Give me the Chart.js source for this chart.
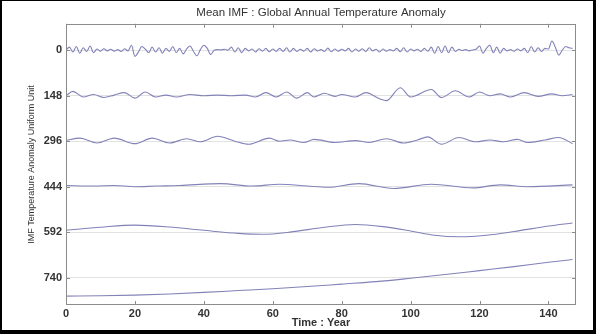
<!DOCTYPE html>
<html>
<head>
<meta charset="utf-8">
<script src="https://cdn.jsdelivr.net/npm/chart.js@4"></script>
<style>
  html, body { margin: 0; padding: 0; background: #000; }
  #wrap { position: absolute; left: 2px; top: 1px; width: 591px; height: 329px; background: #fff; }
  canvas { display: block; }
</style>
</head>
<body>
<div id="wrap"><canvas id="imf" width="591" height="329"></canvas></div>
<script>
// tick positions; each IMF is stacked at its own offset on the reversed y axis
const xTicks = [0, 20, 40, 60, 80, 100, 120, 140];
const imfOffsets = [0, 148, 296, 444, 592, 740];

// IMF 1: one value per year (0..147)
const imf1 = [
  0, 10, -6, 12, -10, 8, -4, 14, -8, 4,
  -3, 5, -2, 3, -3, 2, -4, 5, -2, 16,
  -20, -6, 12, 4, -8, 10, -6, 8, -10, 6,
  -4, 12, -8, 6, -12, 4, 14, -4, -18, 2,
  16, 6, -14, 0, 2, 1, 3, 0, 10, -6,
  8, -8, 6, -2, 4, -6, 5, -3, 6, -5,
  4, -4, 6, -4, 8, -6, 6, -4, 3, -3,
  6, -6, 5, -2, 2, -4, 7, -5, 4, -3,
  3, -2, 6, -6, 4, -3, 5, -4, 8, -2,
  3, -6, 4, -3, 2, -2, 6, -5, 8, -6,
  4, -2, 3, -4, 6, -3, 10, -10, 12, -8,
  14, -8, 10, -4, 3, -1, 2, -2, 1, 3,
  14, -10, 6, 16, -8, 10, -10, 6, -2, 2,
  -3, 4, -2, 6, -8, 12, -6, 8, -4, 6,
  4, 30, 10, -16, 0, 12, 8, 6
];

// slower IMFs: values at their turning points
const imf2Years = [0, 2, 5, 8, 11, 14, 17, 20, 23, 26, 29, 32, 36, 40, 44, 48, 52, 55, 58, 61, 64, 67, 70, 72, 75, 78, 80, 84, 87, 91, 93, 97, 100, 106, 109, 113, 117, 120, 123, 126, 129, 133, 137, 141, 144, 147];
const imf2 = [0, 14, -4, 4, -6, 2, 10, -8, 12, -4, 2, -4, 4, 0, 2, 0, 2, -4, 10, -4, 12, -8, 10, -4, 8, -2, 4, -4, 10, -10, -16, 26, -4, 20, -6, 16, -4, 12, 0, 6, -4, 10, -2, 6, 0, 4];

const imf3Years = [0, 4, 9, 14, 20, 25, 30, 35, 39, 44, 49, 53, 59, 62, 65, 69, 72, 78, 84, 88, 93, 98, 102, 105, 109, 114, 119, 123, 127, 131, 134, 139, 143, 147];
const imf3 = [2, 10, -6, 10, -8, 10, -6, 8, -2, 16, 0, -10, 10, 0, 4, -4, 6, -4, 2, -4, 8, -6, 4, 14, -10, 12, -2, 4, -2, 6, -4, 4, 12, -8];

const imf4Years = [0, 8, 14, 20, 26, 33, 45, 54, 62, 70, 76, 85, 95, 106, 118, 126, 134, 147];
const imf4 = [4, 2, 4, 0, 2, 4, 10, 2, 8, 2, -2, 10, -6, 8, -4, 6, 0, 6];

const imf5Years = [0, 10, 20, 30, 40, 50, 57, 65, 75, 84, 92, 100, 107, 114, 122, 130, 140, 147];
const imf5 = [6, 16, 23, 17, 6, -4, -7, 0, 16, 25, 18, 4, -10, -15, -10, 2, 20, 30];

const imf6Years = [0, 10, 20, 30, 40, 50, 60, 70, 80, 90, 100, 110, 120, 130, 140, 147];
const imf6 = [-60, -59, -57, -53, -48, -42, -36, -29, -21, -13, -2, 10, 23, 36, 50, 59];

const series = [
  { years: imf1.map((_, i) => i), values: imf1 },
  { years: imf2Years, values: imf2 },
  { years: imf3Years, values: imf3 },
  { years: imf4Years, values: imf4 },
  { years: imf5Years, values: imf5 },
  { years: imf6Years, values: imf6 }
];

const lineColor = '#8282b8';
const axisColor = '#8c8c8c';
const textColor = '#333';
const family = "'Liberation Sans', Arial, sans-serif";

// matlab-style box with inward tick marks on all four sides
const boxTicks = {
  id: 'boxTicks',
  afterDatasetsDraw(chart) {
    const { ctx, chartArea: a, scales: { x, y } } = chart;
    ctx.save();
    ctx.strokeStyle = axisColor;
    ctx.lineWidth = 1;
    ctx.strokeRect(Math.round(a.left) + 0.5, Math.round(a.top) + 0.5,
      Math.round(a.width) - 1, Math.round(a.height) - 1);
    ctx.beginPath();
    x.ticks.forEach(t => {
      const px = Math.round(x.getPixelForValue(t.value)) + 0.5;
      ctx.moveTo(px, a.bottom); ctx.lineTo(px, a.bottom - 4);
      ctx.moveTo(px, a.top); ctx.lineTo(px, a.top + 4);
    });
    y.ticks.forEach(t => {
      const py = Math.round(y.getPixelForValue(t.value)) + 0.5;
      ctx.moveTo(a.left, py); ctx.lineTo(a.left + 4, py);
      ctx.moveTo(a.right, py); ctx.lineTo(a.right - 4, py);
    });
    ctx.stroke();
    ctx.restore();
  }
};

new Chart(document.getElementById('imf').getContext('2d'), {
  type: 'line',
  data: {
    datasets: series.map((s, k) => ({
      data: s.years.map((yr, i) => ({ x: yr, y: imfOffsets[k] - s.values[i] })),
      borderColor: lineColor,
      borderWidth: 1.1,
      pointRadius: 0,
      cubicInterpolationMode: 'monotone',
      fill: false
    }))
  },
  options: {
    responsive: false,
    animation: false,
    devicePixelRatio: 1,
    layout: { padding: { left: 0, right: 17, top: 0, bottom: 0 } },
    plugins: {
      legend: { display: false },
      tooltip: { enabled: false },
      title: {
        display: true,
        fullSize: false,
        text: 'Mean IMF : Global Annual Temperature Anomaly',
        color: textColor,
        font: { family, size: 11.5, weight: 'normal' },
        padding: { top: 5, bottom: 4 }
      }
    },
    scales: {
      x: {
        type: 'linear',
        min: 0,
        max: 148,
        afterBuildTicks: s => { s.ticks = xTicks.map(v => ({ value: v })); },
        afterFit: s => { s.height = 25; },
        grid: { display: false, drawTicks: false },
        border: { display: false },
        ticks: {
          color: textColor,
          padding: 2,
          maxRotation: 0,
          font: { family, size: 11, weight: 'bold' }
        },
        title: {
          display: true,
          text: 'Time : Year',
          color: textColor,
          font: { family, size: 11, weight: 'bold' },
          padding: { top: 0, bottom: 0 }
        }
      },
      y: {
        type: 'linear',
        reverse: true,
        min: -86,
        max: 829,
        afterBuildTicks: s => { s.ticks = imfOffsets.map(v => ({ value: v })); },
        afterFit: s => { s.width = 64; },
        grid: { color: '#e2e2e2', drawTicks: false },
        border: { display: false },
        ticks: {
          color: textColor,
          padding: 4,
          font: { family, size: 11, weight: 'bold' }
        },
        title: {
          display: true,
          text: 'IMF Temperature Anomaly Uniform Unit',
          color: textColor,
          font: { family, size: 9, weight: 'normal' },
          padding: { top: 24, bottom: 0 }
        }
      }
    }
  },
  plugins: [boxTicks]
});
</script>
</body>
</html>
